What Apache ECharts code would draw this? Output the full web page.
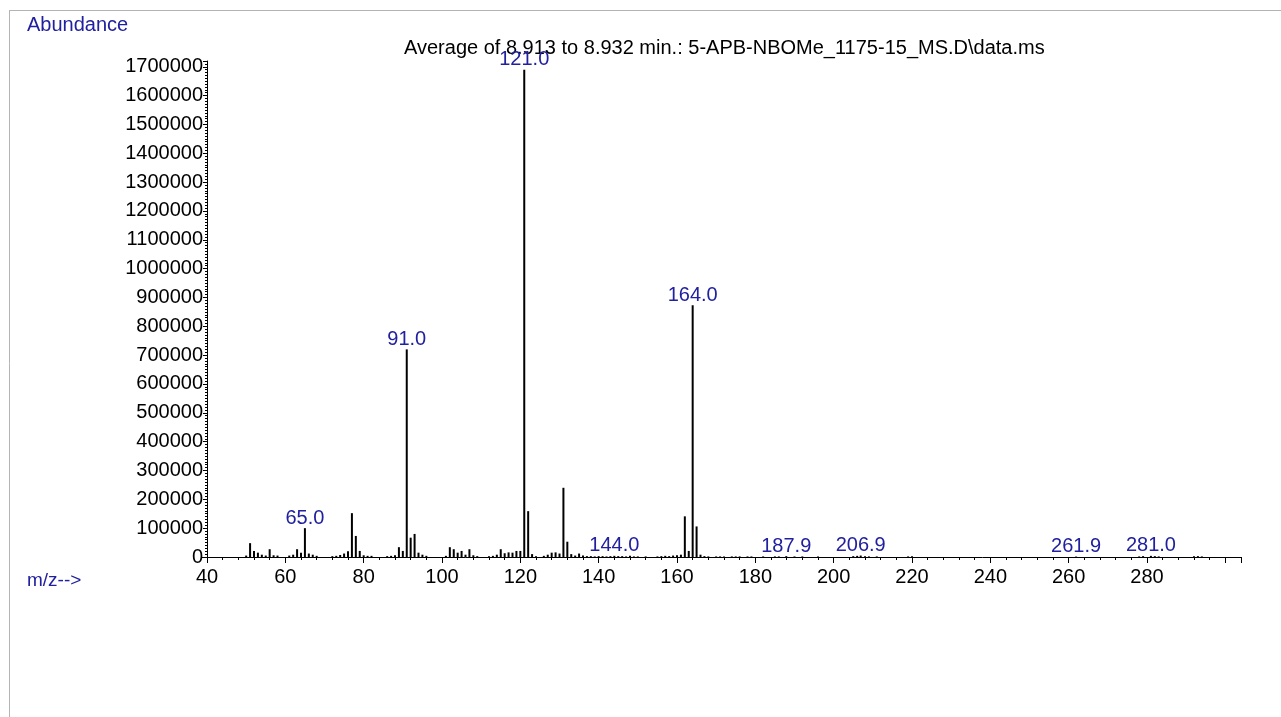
<!DOCTYPE html>
<html>
<head>
<meta charset="utf-8">
<script src="https://cdn.jsdelivr.net/npm/echarts@6/dist/echarts.min.js"></script>
<style>
html,body{margin:0;padding:0;background:#fff;}
#chart{width:1281px;height:717px;}
</style>
</head>
<body>
<div id="chart"></div>
<script>
// m/z values and abundances
const mz = [50,51,52,53,54,55,56,57,58,61,62,63,64,65,66,67,68,72,73,74,75,76,77,78,79,80,81,82,
  86,87,88,89,90,91,92,93,94,95,96,101,102,103,104,105,106,107,108,109,112,113,114,115,116,117,118,119,120,
  121,122,123,124,126,127,128,129,130,131,132,133,134,135,136,137,138,139,140,141,142,143,144,145,146,147,148,149,150,
  152,155,156,157,158,159,160,161,162,163,164,165,166,167,168,170,171,172,174,175,176,178,179,
  182,185,186,187.9,190,192,196,205,206,206.9,208,209,211,219,220,261.9,278,279,281,282,283,292,293,294];
const abundance = [5000,48000,21000,15000,8000,5000,27000,6000,5000,5000,8000,27000,15000,100000,12000,8000,4000,3000,4000,7000,12000,20000,152000,73000,21000,6000,4000,4000,
  3000,4000,6000,34000,21000,720000,67000,80000,15000,8000,4000,4000,34000,27000,15000,21000,8000,27000,6000,3000,3000,4000,8000,27000,13000,16000,15000,21000,21000,
  1690000,159000,10000,3000,4000,8000,15000,16000,12000,240000,53000,10000,5000,12000,5000,3000,3000,2000,3000,3000,2000,3000,4000,3000,3000,2000,4000,2000,2000,
  2000,2000,3000,4000,3000,5000,6000,8000,141000,21000,873000,106000,8000,3000,2000,2000,2000,2000,2000,2000,2000,2000,2000,
  2000,2000,2000,3000,2000,2000,2000,3000,4000,5000,3000,2000,2000,2000,3000,1500,2000,3000,4000,3000,2000,3000,3000,2000];
// labelled peaks
const labelMz = [65,91,121,144,164,187.9,206.9,261.9,281];
const labelText = ["65.0","91.0","121.0","144.0","164.0","187.9","206.9","261.9","281.0"];
// axis tick labels
const xTicks = [40,60,80,100,120,140,160,180,200,220,240,260,280];
const yTicks = [0,100000,200000,300000,400000,500000,600000,700000,800000,900000,1000000,1100000,1200000,1300000,1400000,1500000,1600000,1700000];
const titleText = "Average of 8.913 to 8.932 min.: 5-APB-NBOMe_1175-15_MS.D\\data.ms";

const FONT = "'Liberation Sans', Arial, sans-serif";
const BLUE = "#2020a0";

const data = mz.map((m, i) => {
  const li = labelMz.indexOf(m);
  const item = { value: [m, abundance[i]] };
  if (li >= 0) {
    item.label = { show: true, formatter: labelText[li] };
  }
  return item;
});

const chart = echarts.init(document.getElementById('chart'), null, { renderer: 'canvas' });
chart.setOption({
  animation: false,
  backgroundColor: '#fff',
  title: {
    text: titleText,
    left: 399, top: 33,
    textStyle: { fontFamily: FONT, fontSize: 20, fontWeight: 'normal', color: '#000' }
  },
  grid: { left: 207, right: 40, top: 61, bottom: 160, containLabel: false },
  xAxis: {
    type: 'value', min: 40, max: 304, interval: 20,
    axisLine: { lineStyle: { color: '#000', width: 1 } },
    axisTick: { length: 6, lineStyle: { color: '#000' } },
    minorTick: { show: true, splitNumber: 5, length: 3, lineStyle: { color: '#000' } },
    splitLine: { show: false },
    axisLabel: {
      fontFamily: FONT, fontSize: 20, color: '#000', margin: 10,
      formatter: v => xTicks.indexOf(v) >= 0 ? String(v) : ''
    }
  },
  yAxis: {
    type: 'value', min: 0, max: 1720000, interval: 100000,
    axisLine: { show: true, lineStyle: { color: '#000', width: 1 } },
    axisTick: { show: true, length: 4, lineStyle: { color: '#000' } },
    minorTick: { show: true, splitNumber: 10, length: 2, lineStyle: { color: '#000' } },
    splitLine: { show: false },
    axisLabel: {
      fontFamily: FONT, fontSize: 20, color: '#000', margin: 4,
      formatter: v => yTicks.indexOf(v) >= 0 ? String(v) : ''
    }
  },
  series: [{
    type: 'bar',
    z: 10,
    barWidth: 2,
    itemStyle: { color: '#000' },
    label: {
      show: false, position: 'top', distance: 0,
      fontFamily: FONT, fontSize: 20, color: BLUE
    },
    data: data
  }],
  graphic: [
    { type: 'line', shape: { x1: 9, y1: 10.5, x2: 1281, y2: 10.5 }, style: { stroke: '#b4b4b4', lineWidth: 1 } },
    { type: 'line', shape: { x1: 9.5, y1: 10, x2: 9.5, y2: 717 }, style: { stroke: '#b4b4b4', lineWidth: 1 } },
    { type: 'line', shape: { x1: 202, y1: 557.5, x2: 207, y2: 557.5 }, style: { stroke: '#000', lineWidth: 1 } },
    { type: 'text', left: 27, top: 15, style: { text: 'Abundance', fontFamily: FONT, fontSize: 20, fill: BLUE } },
    { type: 'text', left: 27, top: 571, style: { text: 'm/z-->', fontFamily: FONT, fontSize: 19, fill: BLUE } }
  ]
});
</script>
</body>
</html>
